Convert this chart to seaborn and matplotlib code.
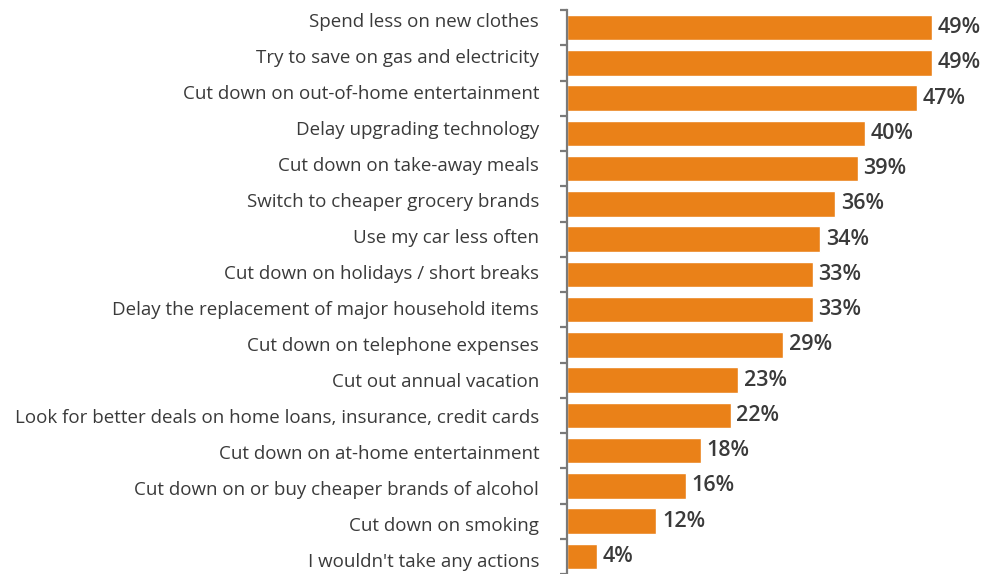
import matplotlib
matplotlib.use("Agg")
import matplotlib.pyplot as plt
from matplotlib.ticker import FixedLocator
import seaborn as sns
import pandas as pd

actions = [
    "Spend less on new clothes",
    "Try to save on gas and electricity",
    "Cut down on out-of-home entertainment",
    "Delay upgrading technology",
    "Cut down on take-away meals",
    "Switch to cheaper grocery brands",
    "Use my car less often",
    "Cut down on holidays / short breaks",
    "Delay the replacement of major household items",
    "Cut down on telephone expenses",
    "Cut out annual vacation",
    "Look for better deals on home loans, insurance, credit cards",
    "Cut down on at-home entertainment",
    "Cut down on or buy cheaper brands of alcohol",
    "Cut down on smoking",
    "I wouldn't take any actions",
]
shares = [49, 49, 47, 40, 39, 36, 34, 33, 33, 29, 23, 22, 18, 16, 12, 4]

df = pd.DataFrame({"action": actions, "share": shares})

sns.set_theme(style="white")
plt.rcParams["font.family"] = ["Open Sans", "DejaVu Sans"]

fig = plt.figure(figsize=(9.85, 5.74), dpi=100)
ax = fig.add_axes([567 / 985, 0.0, 1 - 567 / 985, 1 - 10 / 574])

bar_color = "#EA8118"
sns.barplot(data=df, y="action", x="share", orient="h", color=bar_color,
            saturation=1, width=0.72, ax=ax)

n = len(actions)
ax.set_xlim(0, 56.1)
ax.set_ylim(n - 0.5, -0.5)
ax.set_xlabel("")
ax.set_ylabel("")
ax.set_xticks([])

for side in ("top", "right", "bottom"):
    ax.spines[side].set_visible(False)
ax.spines["left"].set_color("#7a7a7a")
ax.spines["left"].set_linewidth(1.6)

# category labels sit on a slightly wider pitch than the bars
label_pos = [-0.216 + i * 1.0213 for i in range(n)]
ax.set_yticks(label_pos)
ax.set_yticklabels(actions)
ax.tick_params(axis="y", which="major", length=0, pad=20,
               labelsize=13.5, labelcolor="#3a3a3a")

# short ticks on the boundaries between categories
ax.yaxis.set_minor_locator(FixedLocator([i - 0.5 for i in range(n + 1)]))
ax.tick_params(axis="y", which="minor", left=True, length=5, width=1.6,
               color="#7a7a7a")

for container in ax.containers:
    ax.bar_label(container, fmt="%d%%", padding=4, fontsize=15.5,
                 fontweight="semibold", color="#3a3a3a")

fig.savefig("out.png", dpi=100)
